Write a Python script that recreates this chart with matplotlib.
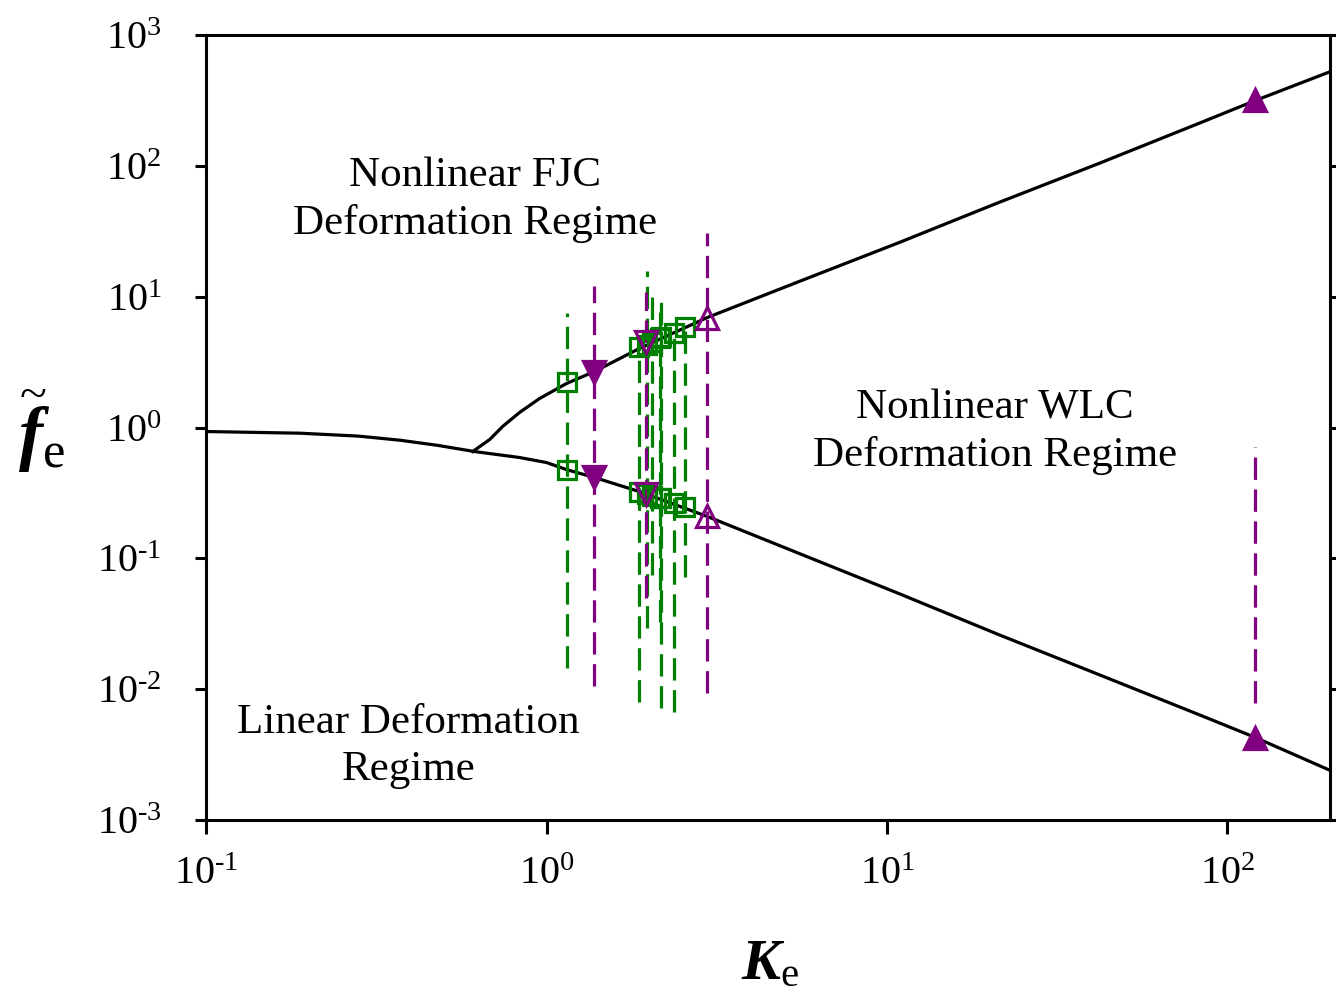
import matplotlib
matplotlib.use("Agg")
import matplotlib.pyplot as plt
from matplotlib.ticker import FuncFormatter
import numpy as np

plt.rcParams['font.family'] = ['Liberation Serif', 'DejaVu Serif']
plt.rcParams['mathtext.fontset'] = 'custom'
plt.rcParams['mathtext.rm'] = 'Liberation Serif'
plt.rcParams['mathtext.it'] = 'Liberation Serif:italic'
plt.rcParams['mathtext.bf'] = 'Liberation Serif:bold:italic'

# model curves
k_lower = [0.1, 0.189, 0.28, 0.371, 0.48, 0.615, 0.833, 1.0, 1.145, 1.383, 1.874, 2.966,
           5.52, 10.84, 21.3, 41.9, 82.3, 120.8, 197.7]
f_lower = [0.932, 0.905, 0.86, 0.80, 0.73, 0.655, 0.590, 0.540, 0.477, 0.415, 0.324, 0.209,
           0.109, 0.0538, 0.0261, 0.01293, 0.0064, 0.00427, 0.00243]

k_upper = [0.607, 0.681, 0.743, 0.833, 0.954, 1.145, 1.383, 1.874, 2.966,
           5.52, 10.84, 21.3, 41.9, 82.3, 120.8, 197.7]
f_upper = [0.655, 0.810, 1.018, 1.302, 1.666, 2.17, 2.68, 4.02, 6.93,
           13.07, 25.9, 52.5, 104.3, 211, 316, 518]

# green squares: K, value on upper branch, value on lower branch, bar ends
g_k = [1.145, 1.874, 1.978, 2.046, 2.16, 2.175, 2.374, 2.556]
g_up = [2.21, 4.09, 4.31, 4.54, 4.8, 4.88, 5.32, 5.9]
g_lo = [0.477, 0.324, 0.313, 0.302, 0.29, 0.287, 0.267, 0.249]
g_top = [7.57, 4.71, 15.6, 10.8, 8.87, 9.52, 5.3, 5.9]
g_bot = [0.0146, 0.00804, 0.0296, 0.0752, 0.0329, 0.00723, 0.00674, 0.0726]

# purple series
p_k = [1.383, 1.965, 2.966, 120.8]
p_up = [2.68, 4.5, 6.93, 316]
p_lo = [0.415, 0.308, 0.209, 0.00427]
p_top = [11.97, 10.8, 30.9, 0.716]
p_bot = [0.0105, 0.0501, 0.00942, 0.0079]
p_marker = ['v', 'v', '^', '^']
p_filled = [True, False, False, True]

green = '#008000'
purple = '#800080'

fig = plt.figure(figsize=(13.36, 10.01), dpi=100)
ax = fig.add_axes([0.1542, 0.1808, 0.8413, 0.7842])

ax.plot(k_lower, f_lower, color='black', lw=2.3, zorder=2)
ax.plot(k_upper, f_upper, color='black', lw=2.3, zorder=2)

dash = (0, (7, 3))
for k, up, lo, t, b in zip(g_k, g_up, g_lo, g_top, g_bot):
    ax.vlines(k, b, t, colors=green, lw=2.3, linestyles=[dash], zorder=3)
    ax.plot([k, k], [up, lo], ls='none', marker='s', ms=13.5, mfc='none',
            mec=green, mew=2.3, zorder=4)

for k, up, lo, t, b, m, fill in zip(p_k, p_up, p_lo, p_top, p_bot, p_marker, p_filled):
    ax.vlines(k, b, t, colors=purple, lw=2.3, linestyles=[dash], zorder=3)
    ax.plot([k, k], [up, lo], ls='none', marker=m, ms=16,
            mfc=purple if fill else 'none', mec=purple, mew=2.3, zorder=5)

ax.set_xscale('log')
ax.set_yscale('log')
ax.set_xlim(0.1, 200)
ax.set_ylim(1e-3, 1e3)
ax.set_xticks([0.1, 1, 10, 100])
ax.set_yticks([1e-3, 1e-2, 1e-1, 1, 10, 100, 1000])
ax.minorticks_off()


# 10^n labels with a short hyphen like the original
def pow_label(v, pos):
    n = int(round(np.log10(v)))
    return r'$10^{%s}$' % str(n).replace('-', '\u2010')


ax.xaxis.set_major_formatter(FuncFormatter(pow_label))
ax.yaxis.set_major_formatter(FuncFormatter(pow_label))

for s in ax.spines.values():
    s.set_linewidth(2.2)
ax.tick_params(axis='x', which='major', direction='out', length=10, width=2.2,
               labelsize=29, pad=16)
ax.tick_params(axis='y', which='major', direction='out', length=8, width=2.2,
               labelsize=29, pad=24, right=True)

ax.text(0.239, 0.790, 'Nonlinear FJC\nDeformation Regime', transform=ax.transAxes,
        ha='center', va='center', fontsize=31, linespacing=1.3)
ax.text(0.702, 0.494, 'Nonlinear WLC\nDeformation Regime', transform=ax.transAxes,
        ha='center', va='center', fontsize=31, linespacing=1.3)
ax.text(0.18, 0.094, 'Linear Deformation\nRegime', transform=ax.transAxes,
        ha='center', va='center', fontsize=31, linespacing=1.3)

fig.text(770 / 1336, 1 - 965 / 1001, r'$\mathbf{K}_{\mathrm{e}}$', fontsize=42,
         ha='center', va='center')
fig.text(42 / 1336, 1 - 432 / 1001, r'$\widetilde{\mathbf{f}}_{\mathrm{e}}$', fontsize=52,
         ha='center', va='center')

fig.savefig('out.png', dpi=100)
